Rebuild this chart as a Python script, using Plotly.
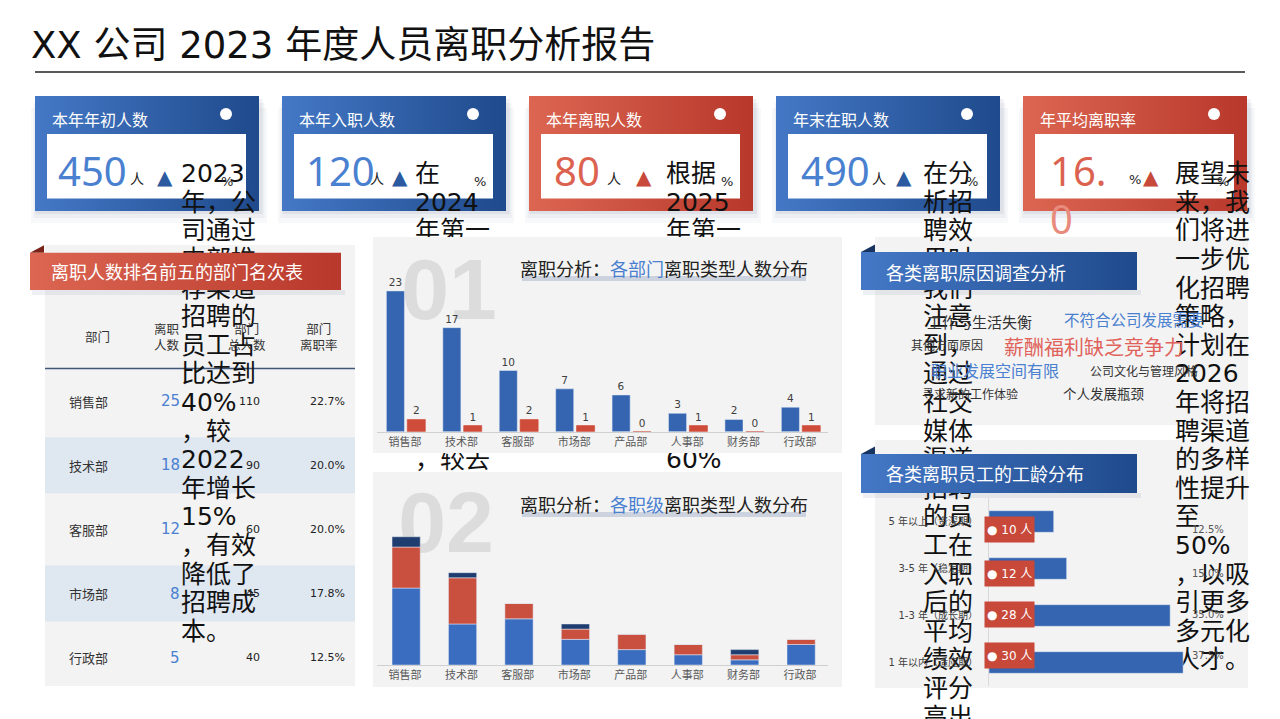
import plotly.graph_objects as go

W, H = 1280, 719
OX, OY = 8, 8  # page body margin offset compensation
LATIN = "DejaVu Sans, Noto Sans CJK SC, sans-serif"
CJK = "Noto Sans CJK SC, DejaVu Sans, sans-serif"
NUM = "Noto Sans, Noto Sans CJK SC, sans-serif"

# ---------------- data ----------------
report_title = "XX 公司 2023 年度人员离职分析报告"

kpi_titles = ["本年年初人数", "本年入职人数", "本年离职人数", "年末在职人数", "年平均离职率"]
kpi_values = ["450", "120", "80", "490", "16."]
kpi_value_tail = ["", "", "", "", "0"]
kpi_units = ["人", "人", "人", "人", "%"]
kpi_themes = ["blue", "blue", "red", "blue", "red"]

kpi_notes = [
    ["2023", "年，公", "司通过", "内部推", "荐渠道", "招聘的", "员工占", "比达到", "40%", "，较",
     "2022", "年增长", "15%", "，有效", "降低了", "招聘成", "本。"],
    ["在", "2024", "年第一", "季度，", "新员工", "入职人", "数同比", "增长，", "其中校", "招占比", "，较去", "年提高"],
    ["根据", "2025", "年第一", "季度的", "预测，", "核心岗", "位的招", "聘完成", "率预计", "将超过", "60%", "，整体"],
    ["在分", "析招", "聘效", "果时", "我们", "注意", "到，", "通过", "社交", "媒体", "渠道", "招聘",
     "的员", "工在", "入职", "后的", "平均", "绩效", "评分", "高出"],
    ["展望未", "来，我", "们将进", "一步优", "化招聘", "策略，", "计划在", "2026", "年将招", "聘渠道",
     "的多样", "性提升", "至", "50%", "，以吸", "引更多", "多元化", "人才。"],
]

departments = ["销售部", "技术部", "客服部", "市场部", "产品部", "人事部", "财务部", "行政部"]
voluntary_leavers = [23, 17, 10, 7, 6, 3, 2, 4]
involuntary_leavers = [2, 1, 2, 1, 0, 1, 0, 1]

level_junior = [15, 8, 9, 5, 3, 2, 1, 4]
level_middle = [8, 9, 3, 2, 3, 2, 1, 1]
level_senior = [2, 1, 0, 1, 0, 0, 1, 0]

top5_depts = ["销售部", "技术部", "客服部", "市场部", "行政部"]
top5_leavers = [25, 18, 12, 8, 5]
top5_headcount = [110, 90, 60, 45, 40]
table_headers = ["部门", "离职<br>人数", "部门<br>总人数", "部门<br>离职率"]

reason_words = ["工作与生活失衡", "不符合公司发展需要", "其他方面原因", "薪酬福利缺乏竞争力",
                "职业发展空间有限", "公司文化与管理风格", "寻求新的工作体验", "个人发展瓶颈"]

tenure_groups = ["5 年以上（资深期）", "3-5 年（稳定期）", "1-3 年（成长期）", "1 年以内（适应期）"]
tenure_counts = [10, 12, 28, 30]

section_titles = ["离职人数排名前五的部门名次表", "各类离职原因调查分析", "各类离职员工的工龄分布"]

# ---------------- styles / layout positions ----------------
BLUE_G = ["#4478c6", "#1f4a8c"]
RED_G = ["#dc6652", "#b8382b"]
BLUE_TXT = "#4a80d0"
RED_TXT = "#dc6250"
PANEL = "#f3f3f3"

card_x0 = [35, 282, 529, 776, 1023]
card_w = 224
card_y0, card_y1 = 96, 211
value_x = [56, 304, 552, 799, 1048]
unit_x = [128, 368, 605, 870, 1127]
tri_x = [165, 400, 644, 904, 1151]
note_x = [181, 415, 666, 923, 1175]
pct_x = [227, 480, 727, 972, 1223]
NOTE_Y0, NOTE_DY = 176, 28.6

word_pos = [(979, 321), (1134, 319), (947, 344), (1094, 346), (995, 370), (1144, 370), (970, 393), (1104, 393)]
word_size = [15, 15.5, 12, 20, 16, 12, 12, 13.5]
word_color = ["#333333", BLUE_TXT, "#333333", "#e0625a", BLUE_TXT, "#333333", "#333333", "#333333"]

tag_shift = [-8, -5, 1, 7]


def X(x):
    return (x - OX) / W


def Y(y):
    return 1 - (y - OY) / H


traces = []


def rect(x0, y0, x1, y1, color=None, grad=None):
    kw = dict(x=[x0, x1, x1, x0, x0], y=[y0, y0, y1, y1, y0], fill="toself", mode="none",
              hoverinfo="skip", showlegend=False, xaxis="x", yaxis="y")
    if grad:
        kw["fillgradient"] = dict(type="horizontal", colorscale=[[0, grad[0]], [1, grad[1]]])
    else:
        kw["fillcolor"] = color
    traces.append(go.Scatter(**kw))


def poly(xs, ys, color):
    traces.append(go.Scatter(x=xs + [xs[0]], y=ys + [ys[0]], fill="toself", mode="none", fillcolor=color,
                             hoverinfo="skip", showlegend=False, xaxis="x", yaxis="y"))


def line(x0, y0, x1, y1, color, width):
    traces.append(go.Scatter(x=[x0, x1], y=[y0, y1], mode="lines", line=dict(color=color, width=width),
                             hoverinfo="skip", showlegend=False, xaxis="x", yaxis="y"))


# title underline
line(35, 72, 1245, 72, "#222222", 1.5)

# KPI cards
for i, x0 in enumerate(card_x0):
    x1 = x0 + card_w
    for k, a in [(12, 0.035), (7, 0.05), (3, 0.07)]:
        rect(x0 - k / 2 + 2, card_y0 + k, x1 + k / 2 + 2, card_y1 + k, "rgba(40,60,100,%s)" % a)
    rect(x0, card_y0, x1, card_y1, grad=BLUE_G if kpi_themes[i] == "blue" else RED_G)
    rect(x0 + 12, 134, x1 - 13, 198.5, "#ffffff")
traces.append(go.Scatter(x=[x + card_w - 33 for x in card_x0], y=[114] * 5, mode="markers",
                         marker=dict(size=12, color="white"), hoverinfo="skip", showlegend=False,
                         xaxis="x", yaxis="y"))

# left table panel
rect(45, 245, 355, 686, PANEL)
for r in [1, 3]:
    yc = 401 + r * 64.2
    rect(45, yc - 28, 355, yc + 28, "#dfe7f1")
line(45, 368.5, 355, 368.5, "#3f5679", 1.5)

# right panels
rect(875, 237, 1248, 425, PANEL)
rect(875, 440, 1248, 688, PANEL)

# overflowing note texts (drawn below middle panels and ribbons)
nx, ny, nt = [], [], []
for i, lines in enumerate(kpi_notes):
    for j, t in enumerate(lines):
        nx.append(note_x[i])
        ny.append(NOTE_Y0 + j * NOTE_DY)
        nt.append(t)
traces.append(go.Scatter(x=nx, y=ny, text=nt, mode="text", textposition="middle right",
                         textfont=dict(family=LATIN, size=25, color="#111111"),
                         hoverinfo="skip", showlegend=False, xaxis="x", yaxis="y"))

# middle panels
rect(373, 237, 842, 453, PANEL)
rect(373, 472, 842, 687, PANEL)
traces.append(go.Scatter(x=[449, 446], y=[297, 530], text=["<b>01</b>", "<b>02</b>"], mode="text",
                         textposition="middle center",
                         textfont=dict(family="Liberation Sans, Arial, sans-serif", size=86, color="#dcdcdc"),
                         hoverinfo="skip", showlegend=False, xaxis="x", yaxis="y"))
rect(522, 276, 806, 281, "#cdd3de")
rect(522, 512, 806, 517, "#cdd3de")

# ribbons
ribbons = [(30, 252.7, 341, 290, RED_G, "#7a2218"),
           (861, 252, 1137, 290, BLUE_G, "#17335f"),
           (861, 454, 1137, 493, BLUE_G, "#17335f")]
for x0, y0, x1, y1, g, dark in ribbons:
    rect(x0 + 2, y1, x1 + 4, y1 + 5, "rgba(40,60,100,0.08)")
    poly([x0, x0 + 14, x0 + 14], [y0, y0 - 7.5, y0], dark)
    rect(x0, y0, x1, y1, grad=[g[0], g[1]])

# ---------------- charts ----------------
traces.append(go.Bar(x=departments, y=voluntary_leavers, name="主动离职", xaxis="x2", yaxis="y2",
                     marker=dict(color="#3565b0"), offset=-0.33, width=0.32,
                     text=voluntary_leavers, textposition="outside", cliponaxis=False,
                     textfont=dict(size=10.5, color="#404040", family=LATIN), hoverinfo="skip"))
traces.append(go.Bar(x=departments, y=involuntary_leavers, name="被动离职", xaxis="x2", yaxis="y2",
                     marker=dict(color="#cf4b3a", line=dict(color="#cf4b3a", width=0.6)), offset=0.04, width=0.32,
                     text=involuntary_leavers, textposition="outside", cliponaxis=False,
                     textfont=dict(size=10.5, color="#404040", family=LATIN), hoverinfo="skip"))

base_mid = level_junior
base_top = [a + b for a, b in zip(level_junior, level_middle)]
traces.append(go.Bar(x=departments, y=level_junior, name="基层", xaxis="x3", yaxis="y3",
                     marker=dict(color="#3a6cbf"), offset=-0.23, width=0.5, hoverinfo="skip"))
traces.append(go.Bar(x=departments, y=level_middle, base=base_mid, name="中层", xaxis="x3", yaxis="y3",
                     marker=dict(color="#c9503f"), offset=-0.23, width=0.5, hoverinfo="skip"))
traces.append(go.Bar(x=departments, y=level_senior, base=base_top, name="高层", xaxis="x3", yaxis="y3",
                     marker=dict(color="#1f3d6e"), offset=-0.23, width=0.5, hoverinfo="skip"))

traces.append(go.Bar(y=tenure_groups, x=tenure_counts, orientation="h", xaxis="x4", yaxis="y4",
                     marker=dict(color="#3565b0"), offset=-0.23, width=0.46, hoverinfo="skip"))

fig = go.Figure(traces)

# ---------------- annotations ----------------
ann = []


def A(x, y, text, size, color, xanchor="center", yanchor="middle", family=CJK, **kw):
    d = dict(xref="paper", yref="paper", x=X(x), y=Y(y), text=text, showarrow=False,
             font=dict(family=family, size=size, color=color), xanchor=xanchor, yanchor=yanchor)
    d.update(kw)
    ann.append(d)


A(29, 45, report_title, 37, "#111111", xanchor="left", family=LATIN)

for i, x0 in enumerate(card_x0):
    blue = kpi_themes[i] == "blue"
    A(x0 + 15, 119, kpi_titles[i], 16, "#ffffff", xanchor="left")
    A(value_x[i], 170, kpi_values[i], 40, BLUE_TXT if blue else RED_TXT, xanchor="left", family=NUM)
    if kpi_value_tail[i]:
        A(value_x[i], 218, kpi_value_tail[i], 40, "#e88a7c", xanchor="left", family=NUM)
    A(unit_x[i], 179, kpi_units[i], 14 if kpi_units[i] == "人" else 13, "#222222", xanchor="left",
      family=LATIN)
    A(tri_x[i], 177, "▲", 20, "#2c5aa0" if blue else "#c8483a", family=LATIN)
    A(pct_x[i], 181, "%", 13, "#222222", family=LATIN)

# table
head_x = [97.5, 167, 247, 319]
for hx, ht in zip(head_x, table_headers):
    A(hx, 337, ht, 12.5, "#333333")
for r, d in enumerate(top5_depts):
    yc = 401 + r * 64.2
    A(88.5, yc, d, 13, "#333333")
    A(182, yc, str(top5_leavers[r]), 15, BLUE_TXT, xanchor="right", family=LATIN)
    A(262, yc, str(top5_headcount[r]), 11, "#222222", xanchor="right", family=LATIN)
    A(347, yc, "%.1f%%" % (top5_leavers[r] / top5_headcount[r] * 100), 11, "#222222", xanchor="right",
      family=LATIN)

# section ribbon titles
A(49, 271, section_titles[0], 18, "#ffffff", xanchor="left")
A(884, 272, section_titles[1], 18, "#ffffff", xanchor="left")
A(884, 473, section_titles[2], 18, "#ffffff", xanchor="left")

# middle chart titles
A(664, 268, "离职分析：<span style='color:%s'>各部门</span>离职类型人数分布" % BLUE_TXT, 18, "#222222")
A(664, 504, "离职分析：<span style='color:%s'>各职级</span>离职类型人数分布" % BLUE_TXT, 18, "#222222")

# word cloud
for w, (wx, wy), s, c in zip(reason_words, word_pos, word_size, word_color):
    A(wx, wy, w, s, c)

# tenure tags & percentages
total_tenure = sum(tenure_counts)
for g, v, ys in zip(tenure_groups, tenure_counts, tag_shift):
    ann.append(dict(xref="x4", yref="y4", x=0, y=g, xanchor="left", yanchor="middle", xshift=-5, yshift=ys,
                    text="● %d 人" % v, showarrow=False, bgcolor="#c8483a", borderpad=2, height=21,
                    font=dict(family=LATIN, size=12, color="#ffffff")))
    ann.append(dict(xref="paper", yref="y4", x=X(1208), y=g, xanchor="center", yanchor="middle",
                    yshift=ys, showarrow=False, text="%.1f%%" % (v / total_tenure * 100),
                    font=dict(family=LATIN, size=10, color="#555555")))

# ---------------- layout ----------------
fig.update_layout(
    width=W, height=H, margin=dict(l=0, r=0, t=0, b=0),
    paper_bgcolor="white", plot_bgcolor="rgba(0,0,0,0)",
    showlegend=False, hovermode=False, barmode="group",
    annotations=ann,
    xaxis=dict(domain=[0, 1], range=[OX, W + OX], visible=False, fixedrange=True),
    yaxis=dict(domain=[0, 1], range=[H + OY, OY], visible=False, fixedrange=True),
    xaxis2=dict(domain=[X(376.8), X(828.2)], anchor="y2", showline=True, linecolor="#d0d0d0",
                ticks="", showgrid=False, tickfont=dict(size=11, color="#595959", family=CJK),
                fixedrange=True),
    yaxis2=dict(domain=[Y(431.7), Y(270)], anchor="x2", range=[0, 26.42], visible=False,
                fixedrange=True),
    xaxis3=dict(domain=[X(376.8), X(828.2)], anchor="y3", showline=True, linecolor="#d0d0d0",
                ticks="", showgrid=False, tickfont=dict(size=11, color="#595959", family=CJK),
                fixedrange=True),
    yaxis3=dict(domain=[Y(665), Y(520)], anchor="x3", range=[0, 28.27], visible=False,
                fixedrange=True),
    xaxis4=dict(domain=[X(989), X(1247.8)], anchor="y4", range=[0, 40], visible=False,
                fixedrange=True),
    yaxis4=dict(domain=[Y(686), Y(498)], anchor="x4", autorange="reversed", showline=True,
                linecolor="#d9d9d9", ticks="", showgrid=False, ticklabelstandoff=8,
                tickfont=dict(size=10, color="#404040", family=LATIN), fixedrange=True),
)

fig.write_html("out.html")
